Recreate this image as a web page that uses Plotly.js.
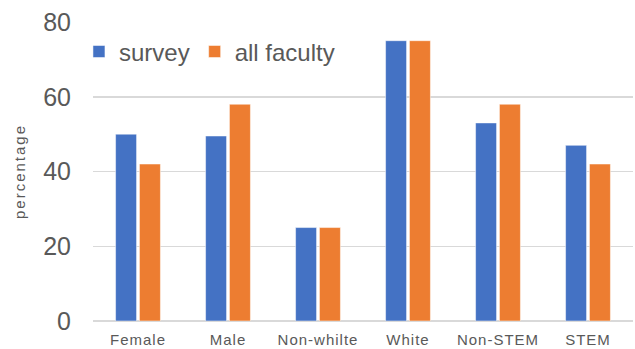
<!DOCTYPE html>
<html>
<head>
<meta charset="utf-8">
<script src="https://cdn.plot.ly/plotly-3.0.1.min.js"></script>
<style>
html,body{margin:0;padding:0;background:#fff;}
#chart{width:635px;height:349px;}
#chart .xtick text{letter-spacing:1px;}
#chart .g-ytitle text{letter-spacing:2px;}
</style>
</head>
<body>
<div id="chart"></div>
<script>
const categories = ["Female", "Male", "Non-whilte", "White", "Non-STEM", "STEM"];
const surveyValues = [50, 49.5, 25, 75, 53, 47];
const facultyValues = [42, 58, 25, 75, 58, 42];
const seriesNames = ["survey", "all faculty"];
const yTicks = [0, 20, 40, 60, 80];

const traces = [
  {type: "bar", name: seriesNames[0], x: categories, y: surveyValues,
   marker: {color: "#4472C4", line: {color: "#ffffff", width: 0.5}}, hoverinfo: "none"},
  {type: "bar", name: seriesNames[1], x: categories, y: facultyValues,
   marker: {color: "#ED7D31", line: {color: "#ffffff", width: 0.5}}, hoverinfo: "none"}
];

const layout = {
  width: 635, height: 349,
  margin: {l: 93, r: 2, t: 22, b: 28},
  paper_bgcolor: "#ffffff", plot_bgcolor: "#ffffff",
  font: {family: "Liberation Sans, Arial, sans-serif", color: "#595959"},
  barmode: "group", bargap: 0.47, bargroupgap: 0.12,
  showlegend: true,
  legend: {orientation: "h", x: -0.026, xanchor: "left", y: 0.9, yanchor: "middle",
           font: {size: 24, color: "#595959", family: "Liberation Sans, Arial, sans-serif"}, bgcolor: "rgba(0,0,0,0)",
           itemwidth: 30, traceorder: "normal"},
  xaxis: {type: "category", showgrid: false, zeroline: false, showline: false,
          tickfont: {size: 15, color: "#595959", family: "Liberation Sans, Arial, sans-serif"},
          ticks: "", ticklabelstandoff: 8},
  yaxis: {range: [0, 80], tickvals: yTicks, ticktext: yTicks.map(String),
          showgrid: true, gridcolor: "#D9D9D9", gridwidth: 1.5, zeroline: true, zerolinecolor: "#D9D9D9", zerolinewidth: 1.5,
          showline: false, tickfont: {size: 25, color: "#595959"}, ticklabelstandoff: 21,
          title: {text: "percentage", font: {size: 15, color: "#595959"}, standoff: 13}}
};

Plotly.newPlot("chart", traces, layout, {displayModeBar: false, staticPlot: true});
</script>
</body>
</html>
